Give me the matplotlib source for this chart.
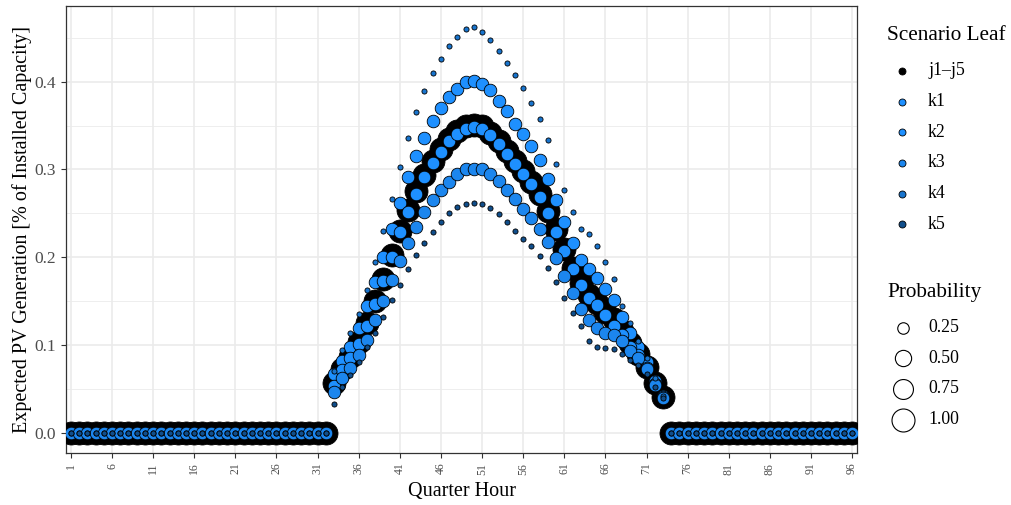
import matplotlib
matplotlib.use("Agg")
import matplotlib.pyplot as plt
import numpy as np

plt.rcParams['font.family'] = ['Liberation Serif', 'DejaVu Serif']

# ---------------- data ----------------
hours = list(range(1, 97))
zeros_before = [0.0] * 32   # hours 1..32
zeros_after = [0.0] * 23    # hours 74..96

# values for hours 33..73
j_mid = [0.057, 0.072, 0.086, 0.103, 0.125, 0.150, 0.175, 0.203, 0.230, 0.254,
         0.275, 0.294, 0.310, 0.323, 0.335, 0.344, 0.350, 0.351, 0.349, 0.342,
         0.332, 0.321, 0.309, 0.298, 0.286, 0.272, 0.253, 0.232, 0.209, 0.188,
         0.170, 0.157, 0.148, 0.138, 0.129, 0.116, 0.102, 0.090, 0.075, 0.057,
         0.041]
k1_mid = [0.067, 0.082, 0.098, 0.119, 0.144, 0.172, 0.200, 0.232, 0.262, 0.291,
          0.315, 0.336, 0.355, 0.370, 0.382, 0.392, 0.400, 0.401, 0.397, 0.390,
          0.378, 0.366, 0.352, 0.340, 0.327, 0.311, 0.289, 0.265, 0.240, 0.216,
          0.197, 0.187, 0.176, 0.164, 0.151, 0.132, 0.114, 0.098, 0.080, 0.059,
          0.042]
k2_mid = [0.053, 0.071, 0.085, 0.101, 0.122, 0.147, 0.173, 0.200, 0.229, 0.251,
          0.272, 0.291, 0.307, 0.320, 0.332, 0.340, 0.346, 0.348, 0.346, 0.339,
          0.329, 0.318, 0.306, 0.295, 0.283, 0.269, 0.250, 0.229, 0.207, 0.186,
          0.168, 0.154, 0.145, 0.134, 0.122, 0.111, 0.098, 0.088, 0.074, 0.056,
          0.041]
k3_mid = [0.046, 0.062, 0.074, 0.088, 0.106, 0.128, 0.150, 0.174, 0.196, 0.216,
          0.234, 0.251, 0.265, 0.276, 0.286, 0.295, 0.300, 0.301, 0.300, 0.295,
          0.287, 0.276, 0.266, 0.255, 0.245, 0.232, 0.217, 0.199, 0.179, 0.159,
          0.141, 0.128, 0.119, 0.114, 0.111, 0.105, 0.093, 0.085, 0.072, 0.054,
          0.040]
k4_mid = [0.070, 0.094, 0.113, 0.135, 0.162, 0.195, 0.230, 0.266, 0.303, 0.336,
          0.365, 0.389, 0.410, 0.426, 0.441, 0.451, 0.460, 0.462, 0.457, 0.447,
          0.435, 0.421, 0.407, 0.393, 0.376, 0.357, 0.333, 0.306, 0.277, 0.251,
          0.232, 0.226, 0.213, 0.194, 0.175, 0.144, 0.125, 0.105, 0.085, 0.062,
          0.042]
k5_mid = [0.033, 0.052, 0.066, 0.081, 0.098, 0.114, 0.132, 0.151, 0.168, 0.186,
          0.202, 0.216, 0.229, 0.240, 0.250, 0.257, 0.261, 0.262, 0.261, 0.256,
          0.249, 0.240, 0.230, 0.221, 0.213, 0.201, 0.188, 0.172, 0.154, 0.136,
          0.121, 0.105, 0.098, 0.097, 0.095, 0.090, 0.083, 0.077, 0.067, 0.052,
          0.040]

series_names = ["j1\u2013j5", "k1", "k2", "k3", "k4", "k5"]
series_mid = [j_mid, k1_mid, k2_mid, k3_mid, k4_mid, k5_mid]
series_prob = [1.0, 0.3, 0.3, 0.3, 0.05, 0.05]
series_color = ["#000000", "#1E90FF", "#1E90FF", "#1C86EE", "#1874CD", "#104E8B"]

prob_breaks = [0.25, 0.50, 0.75, 1.00]
x_breaks = list(range(1, 97, 5))
y_breaks = [0.0, 0.1, 0.2, 0.3, 0.4]

DPI = 100
W, H = 1011, 505


def size_for(p):
    d_px = 23.0 * np.sqrt(p)
    return (d_px * 72.0 / DPI) ** 2


fig = plt.figure(figsize=(W / DPI, H / DPI), dpi=DPI)
ax = fig.add_axes([66 / W, 52 / H, 791 / W, 447 / H])

for name, mid, p, col in zip(series_names, series_mid, series_prob, series_color):
    vals = zeros_before + mid + zeros_after
    ax.scatter(hours, vals, s=size_for(p), c=col, edgecolors="black",
               linewidths=0.6, zorder=3)

ax.set_xlim(0.4, 96.6)
ax.set_ylim(-0.0232, 0.4862)
ax.set_xticks(x_breaks)
ax.set_xticklabels([str(b) for b in x_breaks], rotation=90, fontsize=8.5,
                   color="#4D4D4D")
ax.set_yticks(y_breaks)
ax.set_yticklabels([f"{b:.1f}" for b in y_breaks], fontsize=12.5, color="#4D4D4D")
ax.set_yticks(np.arange(0.05, 0.5, 0.1), minor=True)
ax.tick_params(axis="both", which="major", direction="out", length=3.5,
               width=0.8, color="#333333")
ax.tick_params(axis="y", which="minor", length=0)
ax.set_axisbelow(True)
ax.grid(which="major", color="#EBEBEB", lw=1.2)
ax.grid(which="minor", axis="y", color="#EBEBEB", lw=0.6)
for sp in ax.spines.values():
    sp.set_color("#333333")
    sp.set_linewidth(0.9)

ax.set_xlabel("Quarter Hour", fontsize=14.5, labelpad=5)
ax.set_ylabel("Expected PV Generation [% of Installed Capacity]", fontsize=14.5,
              labelpad=2)

# ---------------- legends (pixel coordinates) ----------------
lax = fig.add_axes([0, 0, 1, 1])
lax.set_xlim(0, W)
lax.set_ylim(H, 0)
lax.axis("off")
lax.patch.set_alpha(0)

lax.text(887, 35, "Scenario Leaf", fontsize=15.3, va="center", ha="left")
ys = [70.7, 101.5, 132.2, 162.9, 193.5, 224.2]
for name, col, y in zip(series_names, series_color, ys):
    lax.scatter([902], [y], s=(7.0 * 0.72) ** 2, c=col, edgecolors="black",
                linewidths=0.6)
    lax.text(928, y, name, fontsize=12.8, va="center", ha="left")

lax.text(887, 293, "Probability", fontsize=15.3, va="center", ha="left")
ys2 = [327.5, 358.2, 388.9, 419.6]
for p, y in zip(prob_breaks, ys2):
    lax.scatter([903], [y], s=size_for(p), c="white", edgecolors="black",
                linewidths=0.8)
    lax.text(928, y, f"{p:.2f}", fontsize=12.8, va="center", ha="left")

fig.savefig("out.png", dpi=DPI)
